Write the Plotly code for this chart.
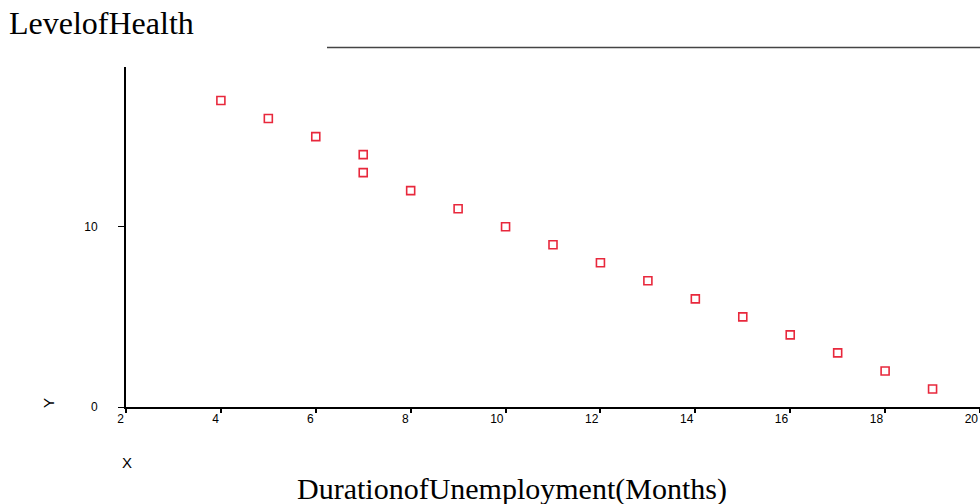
import plotly.graph_objects as go

duration = [4, 5, 6, 7, 7, 8, 9, 10, 11, 12, 13, 14, 15, 16, 17, 18, 19]
health = [17, 16, 15, 14, 13, 12, 11, 10, 9, 8, 7, 6, 5, 4, 3, 2, 1]
x_ticks = [2, 4, 6, 8, 10, 12, 14, 16, 18, 20]
y_ticks = [0, 10]

fig = go.Figure()
fig.add_trace(go.Scatter(
    x=duration, y=health, mode="markers",
    marker=dict(symbol="square-open", size=8, color="#e8283c",
                line=dict(width=1.6, color="#e8283c")),
    hoverinfo="skip", showlegend=False,
))

axis_font = dict(family="Liberation Sans, Arial, sans-serif", size=12, color="#000")
L, T, B = 126, 67, 97
PW, PH = 980 - L, 504 - T - B
fig.update_layout(
    width=980, height=504,
    margin=dict(l=L, r=0, t=T, b=B),
    paper_bgcolor="white", plot_bgcolor="white",
    xaxis=dict(range=[2, 20], tickvals=x_ticks, ticktext=[str(v) for v in x_ticks],
               showgrid=False, zeroline=False, showline=True, linecolor="black",
               linewidth=2, ticks="outside", ticklen=4, tickwidth=2, tickcolor="black",
               tickfont=axis_font, ticklabelposition="outside left"),
    yaxis=dict(range=[0, 18.86], tickvals=y_ticks, ticktext=[str(v) for v in y_ticks],
               showgrid=False, zeroline=False, showline=True, linecolor="black",
               linewidth=2, ticks="outside", ticklen=6, tickwidth=1.2, tickcolor="black",
               tickfont=axis_font, ticklabelstandoff=18),
    annotations=[
        dict(text="LevelofHealth", xref="paper", yref="paper", x=-(L - 7) / PW,
             y=1 + 24 / PH, xanchor="left", yanchor="bottom", showarrow=False,
             font=dict(family="Liberation Serif, Times New Roman, serif", size=32, color="#000")),
        dict(text="DurationofUnemployment(Months)", xref="paper", yref="paper",
             x=(512 - L) / PW, y=-(489 - (504 - B)) / PH, xanchor="center", yanchor="middle",
             showarrow=False,
             font=dict(family="Liberation Serif, Times New Roman, serif", size=30, color="#000")),
        dict(text="Y", xref="paper", yref="paper", x=-(L - 48) / PW, y=((504 - B) - 403) / PH,
             xanchor="center", yanchor="middle", textangle=-90, showarrow=False,
             font=dict(family="Liberation Sans, Arial, sans-serif", size=15, color="#000")),
        dict(text="X", xref="paper", yref="paper", x=(127 - L) / PW, y=-(462 - (504 - B)) / PH,
             xanchor="center", yanchor="middle", showarrow=False,
             font=dict(family="Liberation Sans, Arial, sans-serif", size=15, color="#000")),
    ],
    shapes=[
        dict(type="line", xref="paper", yref="paper", x0=(327 - L) / PW, x1=1,
             y0=1 + (T - 47.5) / PH, y1=1 + (T - 47.5) / PH,
             line=dict(color="#444", width=1.5)),
    ],
)

fig.write_html("out.html", config={"displayModeBar": False},
               post_script="document.body.style.margin='0';document.body.style.padding='0';document.body.style.overflow='hidden';")
